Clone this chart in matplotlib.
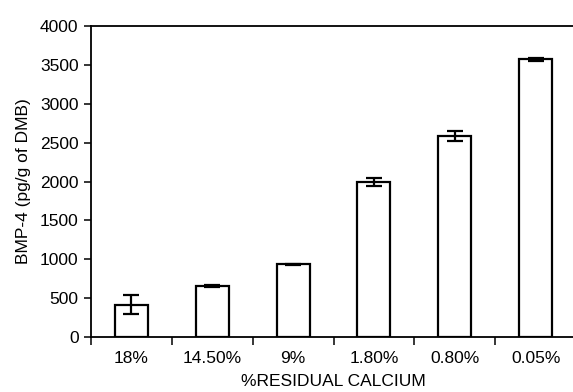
import matplotlib
matplotlib.use("Agg")
import matplotlib.pyplot as plt
import numpy as np

categories = ["18%", "14.50%", "9%", "1.80%", "0.80%", "0.05%"]
bmp4 = [415, 660, 935, 1995, 2585, 3570]
bmp4_err = [125, 15, 10, 50, 65, 15]

plt.rcParams["font.family"] = ["Liberation Sans", "DejaVu Sans"]
fs = 12.5

fig = plt.figure(figsize=(5.73, 3.92), dpi=100)
W, H = 573, 392
left, right, top, bottom = 91, 576, 26, 337
ax = fig.add_axes([left / W, 1 - bottom / H, (right - left) / W, (bottom - top) / H])

x = np.arange(len(categories))
ax.bar(x, bmp4, width=0.41, color="white", edgecolor="black", linewidth=1.6, zorder=2)
ax.errorbar(x, bmp4, yerr=bmp4_err, fmt="none", ecolor="black", elinewidth=1.6,
            capsize=5.5, capthick=1.6, zorder=3)

ax.set_xlim(-0.5, len(categories) - 0.5)
ax.set_ylim(0, 4000)
ax.set_yticks(np.arange(0, 4001, 500))
ax.set_xticks(x)
ax.set_xticklabels(categories)
ax.set_xticks(np.arange(-0.5, len(categories), 1), minor=True)
ax.tick_params(axis="x", which="major", length=0, pad=10, labelsize=fs)
ax.tick_params(axis="x", which="minor", length=6, width=1.1, direction="out")
ax.tick_params(axis="y", length=5, width=1.1, direction="out", labelsize=fs, pad=4)

for s in ax.spines.values():
    s.set_linewidth(1.3)

ax.set_ylabel("BMP-4 (pg/g of DMB)", fontsize=fs, labelpad=6)
ax.set_xlabel("%RESIDUAL CALCIUM", fontsize=fs, labelpad=6)

fig.savefig("out.png", dpi=100)
